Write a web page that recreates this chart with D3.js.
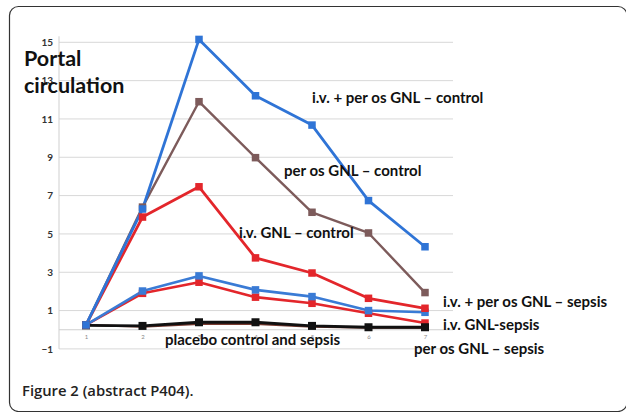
<!DOCTYPE html>
<html><head><meta charset="utf-8">
<script src="https://cdn.jsdelivr.net/npm/d3@7"></script>
<style>body{margin:0;background:#fff}svg{display:block}</style>
</head><body><svg id="c" width="626" height="412"></svg>
<script>
const categories = ["1","2","3","4","5","6","7"];
const yTicks = [-1,1,3,5,7,9,11,13,15];
const seriesNames = [
  "per os GNL – sepsis",
  "i.v. GNL-sepsis",
  "i.v. + per os GNL – sepsis",
  "placebo control and sepsis",
  "i.v. GNL – control",
  "per os GNL – control",
  "i.v. + per os GNL – control"
];
const perOsSepsis   = [0.25, 0.15, 0.3, 0.3, 0.15, 0.1, 0.1];
const ivSepsis      = [0.25, 1.9, 2.48, 1.7, 1.38, 0.86, 0.35];
const ivPerOsSepsis = [0.25, 2.02, 2.81, 2.08, 1.73, 1.0, 0.91];
const placebo       = [0.23, 0.2, 0.39, 0.39, 0.2, 0.13, 0.13];
const ivControl     = [0.25, 5.88, 7.46, 3.75, 2.96, 1.64, 1.12];
const perOsControl  = [0.25, 6.4, 11.9, 8.98, 6.13, 5.05, 1.94];
const ivPerOsControl= [0.25, 6.3, 15.15, 12.21, 10.68, 6.74, 4.33];

const values = [perOsSepsis, ivSepsis, ivPerOsSepsis, placebo, ivControl, perOsControl, ivPerOsControl];
const colors = ["#7a3b30", "#e3262b", "#3a7bd5", "#111111", "#e3262b", "#7d5b5b", "#2f74d6"];
const widths = [2, 2.6, 2.6, 2.8, 2.8, 2.4, 2.8];

const svg = d3.select("#c");
// frame
svg.append("rect").attr("x",9.5).attr("y",6.5).attr("width",617.5).attr("height",405)
  .attr("rx",9).attr("fill","none").attr("stroke","#333").attr("stroke-width",1.2);

const x = d3.scalePoint().domain(categories).range([86,425]);
const y = d3.scaleLinear().domain([-1,15]).range([348.9,42.3]);
const x0 = 59, x1 = 453;

// gridlines
svg.append("g").selectAll("line").data(yTicks).join("line")
  .attr("x1",x0).attr("x2",x1).attr("y1",d=>y(d)).attr("y2",d=>y(d))
  .attr("stroke","#d8d8d8").attr("stroke-width",1);
// x axis at zero
svg.append("line").attr("x1",x0).attr("x2",x1).attr("y1",y(0)).attr("y2",y(0))
  .attr("stroke","#cfcfcf").attr("stroke-width",1.2);
// y axis line
svg.append("line").attr("x1",x0).attr("x2",x0).attr("y1",y(-1)).attr("y2",y(15)-6)
  .attr("stroke","#cfcfcf").attr("stroke-width",1);

// y tick labels
const yAxis = d3.axisLeft(y).tickValues(yTicks).tickSize(0).tickPadding(6).tickFormat(d3.format("d"));
const ga = svg.append("g").attr("transform",`translate(${x0},0)`).call(yAxis);
ga.select(".domain").remove();
ga.selectAll("text").attr("font-family","Lato, sans-serif").attr("font-weight","bold")
  .attr("font-size",10).attr("fill","#333");

// x tick labels
const xAxis = d3.axisBottom(x).tickSize(0).tickPadding(5);
const gx = svg.append("g").attr("transform",`translate(0,${y(0)})`).call(xAxis);
gx.select(".domain").remove();
gx.selectAll("text").attr("font-family","Lato, sans-serif").attr("font-size",6).attr("fill","#888");

// lines
const line = d3.line().x((d,i)=>x(categories[i])).y(d=>y(d));
values.forEach((vals,k)=>{
  svg.append("path").datum(vals).attr("d",line).attr("fill","none")
    .attr("stroke",colors[k]).attr("stroke-width",widths[k]).attr("stroke-linejoin","round");
});
values.forEach((vals,k)=>{
  if (k===0) return;
  const s = k===3 ? 8 : 7.5;
  svg.append("g").selectAll("rect").data(vals).join("rect")
    .attr("x",(d,i)=>x(categories[i])-s/2).attr("y",d=>y(d)-s/2)
    .attr("width",s).attr("height",s).attr("fill",colors[k]);
});

// title
const tt = svg.append("text").attr("font-family","Lato, sans-serif").attr("font-weight","bold")
  .attr("font-size",21.5).attr("fill","#111");
tt.append("tspan").attr("x",24).attr("y",66).text("Portal");
tt.append("tspan").attr("x",24).attr("y",93).text("circulation");

// series labels
const lab = [
  [seriesNames[6], 312, 103],
  [seriesNames[5], 284, 176],
  [seriesNames[4], 239, 238],
  [seriesNames[2], 443, 307],
  [seriesNames[1], 443, 330],
  [seriesNames[0], 414, 354],
  [seriesNames[3], 165, 345]
];
svg.append("g").selectAll("text").data(lab).join("text")
  .attr("x",d=>d[1]).attr("y",d=>d[2]).text(d=>d[0])
  .attr("font-family","Lato, sans-serif").attr("font-weight","bold")
  .attr("font-size",15).attr("fill","#111");

// caption
svg.append("text").attr("x",22).attr("y",396).text("Figure 2 (abstract P404).")
  .attr("font-family","'Open Sans', sans-serif").attr("font-weight",600)
  .attr("font-size",14.8).attr("fill","#222");
</script></body></html>
